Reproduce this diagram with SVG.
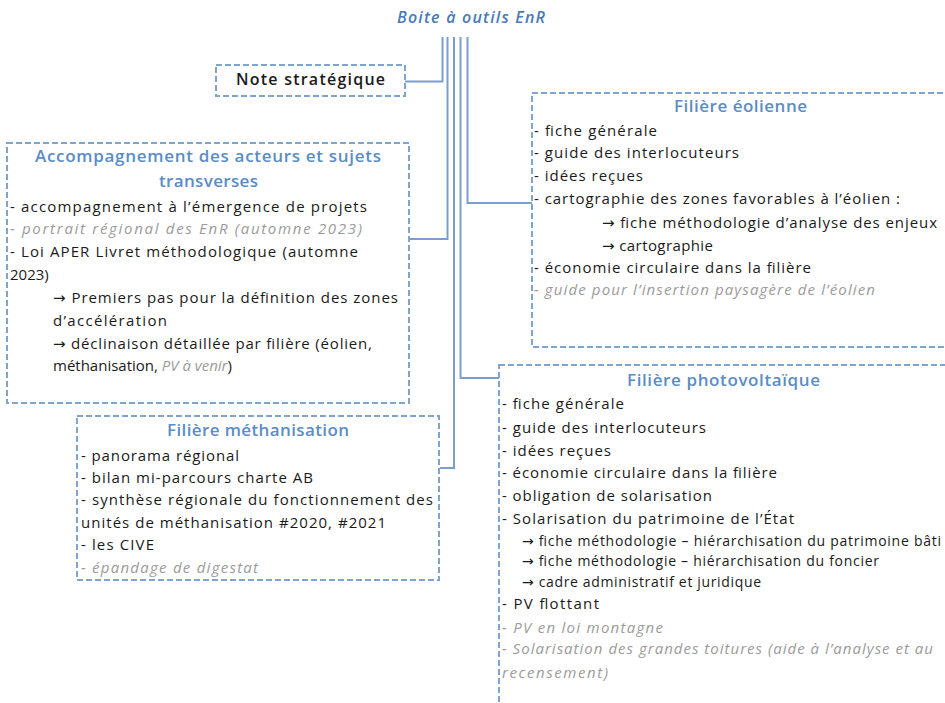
<svg xmlns="http://www.w3.org/2000/svg" width="945" height="703" viewBox="0 0 945 703">
<style>
.box{fill:#fff;stroke:#7fa4d0;stroke-width:2;stroke-dasharray:6 3}
.con{fill:none;stroke:#7a9fcf;stroke-width:2}
text{font-family:"Open Sans","DejaVu Sans",sans-serif;font-size:15px;fill:#1a1a1a}
.h{font-size:17px;font-weight:600;fill:#5b8cc6}
.g{fill:#9b9b9b;font-style:italic}
.s{font-size:14px}
.t{font-size:16px;font-style:italic;font-weight:600;fill:#4a7ab8}
.n{font-size:16px;font-weight:600}
</style>
<rect width="945" height="703" fill="#fff"/>
<g id="connectors">
<path class="con" d="M442.5 37V81.5H405"/>
<path class="con" d="M447.5 37V239H410"/>
<path class="con" d="M454 37V468H440"/>
<path class="con" d="M460.5 37V378H499"/>
<path class="con" d="M467.5 37V203H532"/>
</g>
<g id="root">
<text class="t" x="397" y="23" textLength="148">Boite à outils EnR</text>
</g>
<g id="note">
<rect class="box" x="216" y="65" width="189" height="31"/>
<text class="n" x="236" y="85" textLength="149">Note stratégique</text>
</g>
<g id="accompagnement">
<rect class="box" x="7" y="143" width="402" height="260"/>
<text class="h" x="35" y="162" textLength="346">Accompagnement des acteurs et sujets</text>
<text class="h" x="159" y="187" textLength="99">transverses</text>
<text x="10" y="212" textLength="357">- accompagnement à l’émergence de projets</text>
<text class="g" x="10" y="234" textLength="352">- portrait régional des EnR (automne 2023)</text>
<text x="10" y="257" textLength="348">- Loi APER Livret méthodologique (automne</text>
<text x="10" y="280">2023)</text>
<text x="53" y="303" textLength="345">→ Premiers pas pour la définition des zones</text>
<text x="53" y="326" textLength="114">d’accélération</text>
<text x="53" y="349" textLength="319">→ déclinaison détaillée par filière (éolien,</text>
<text x="53" y="371">méthanisation, <tspan class="g">PV à venir</tspan>)</text>
</g>
<g id="eolien">
<rect class="box" x="532" y="93" width="430" height="254"/>
<text class="h" x="674" y="112" textLength="133">Filière éolienne</text>
<text x="534" y="136" textLength="123">- fiche générale</text>
<text x="534" y="158" textLength="205">- guide des interlocuteurs</text>
<text x="534" y="181" textLength="109">- idées reçues</text>
<text x="534" y="204" textLength="366">- cartographie des zones favorables à l’éolien :</text>
<text x="602" y="228" textLength="335">→ fiche méthodologie d’analyse des enjeux</text>
<text x="602" y="251" textLength="111">→ cartographie</text>
<text x="534" y="273" textLength="277">- économie circulaire dans la filière</text>
<text class="g" x="534" y="295" textLength="341">- guide pour l’insertion paysagère de l’éolien</text>
</g>
<g id="methanisation">
<rect class="box" x="77" y="416" width="362" height="164"/>
<text class="h" x="167" y="436" textLength="182">Filière méthanisation</text>
<text x="81" y="461" textLength="158">- panorama régional</text>
<text x="81" y="483" textLength="232">- bilan mi-parcours charte AB</text>
<text x="81" y="505" textLength="352">- synthèse régionale du fonctionnement des</text>
<text x="81" y="528" textLength="305">unités de méthanisation #2020, #2021</text>
<text x="81" y="550" textLength="73">- les CIVE</text>
<text class="g" x="81" y="573" textLength="177">- épandage de digestat</text>
</g>
<g id="photovoltaique">
<rect class="box" x="499" y="365" width="470" height="360"/>
<text class="h" x="627" y="386" textLength="193">Filière photovoltaïque</text>
<text x="502" y="409" textLength="122">- fiche générale</text>
<text x="502" y="433" textLength="204">- guide des interlocuteurs</text>
<text x="502" y="456" textLength="109">- idées reçues</text>
<text x="502" y="478" textLength="275">- économie circulaire dans la filière</text>
<text x="502" y="501" textLength="210">- obligation de solarisation</text>
<text x="502" y="524" textLength="292">- Solarisation du patrimoine de l’État</text>
<text class="s" x="522" y="546" textLength="419">→ fiche méthodologie – hiérarchisation du patrimoine bâti</text>
<text class="s" x="522" y="566" textLength="357">→ fiche méthodologie – hiérarchisation du foncier</text>
<text class="s" x="522" y="587" textLength="239">→ cadre administratif et juridique</text>
<text x="502" y="609" textLength="97">- PV flottant</text>
<text class="g" x="502" y="633" textLength="161">- PV en loi montagne</text>
<text class="g" x="502" y="654" textLength="431">- Solarisation des grandes toitures (aide à l’analyse et au</text>
<text class="g" x="502" y="678" textLength="106">recensement)</text>
</g>
</svg>
